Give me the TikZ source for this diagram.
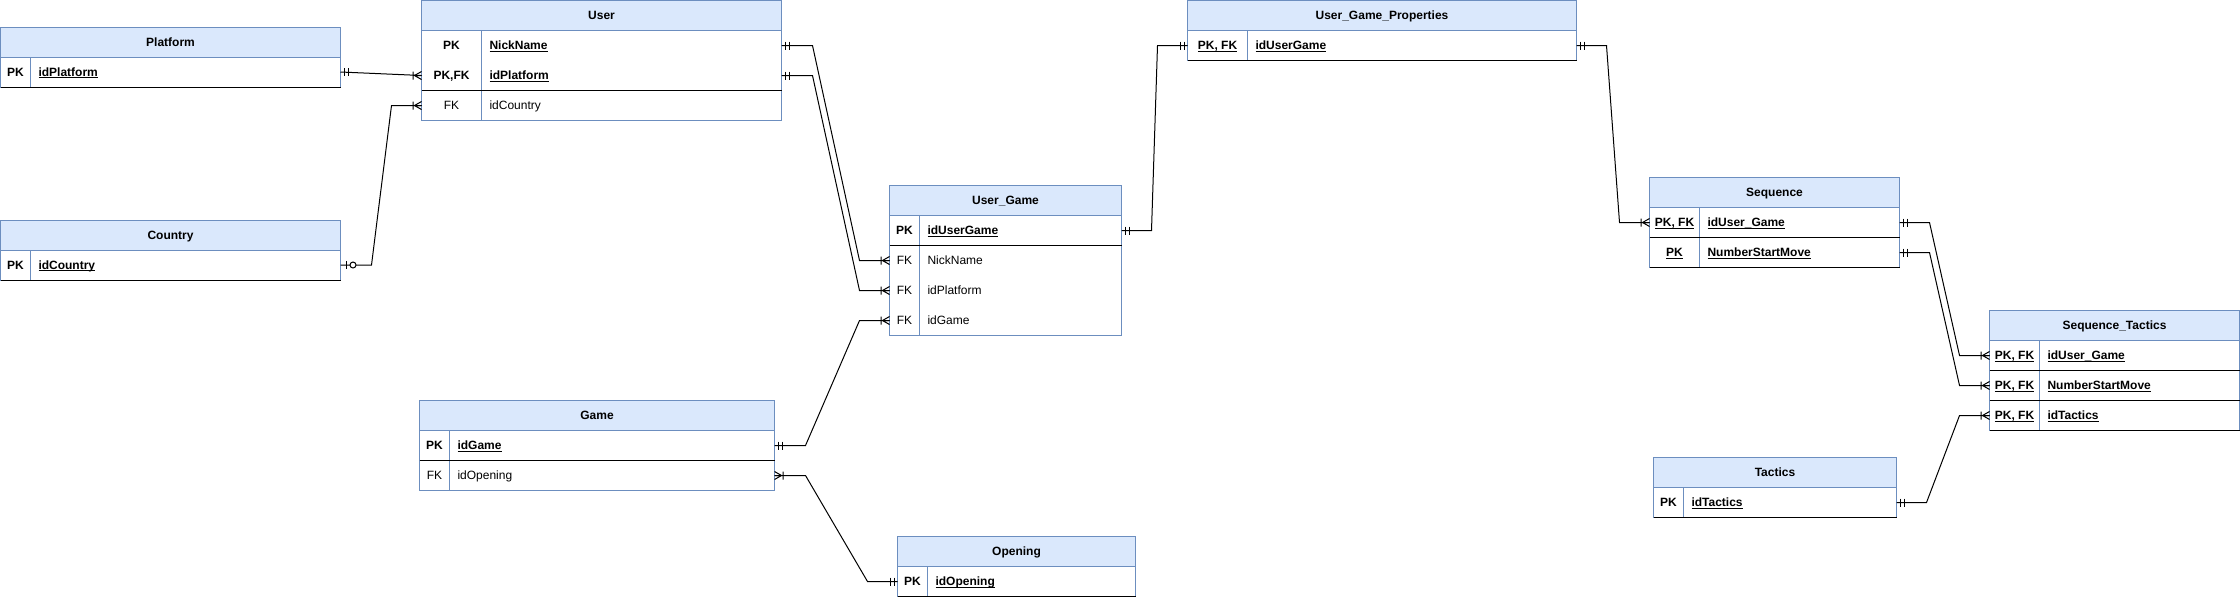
\documentclass[tikz,border=0pt]{standalone}
\usepackage{fontspec}
\setmainfont{Liberation Sans}
\usetikzlibrary{calc}
\definecolor{hdrfill}{HTML}{DAE8FC}
\definecolor{hdrline}{HTML}{6C8EBF}
\newcommand\myul[1]{\setbox0\hbox{#1}\rlap{\copy0}\rule[-2pt]{\wd0}{0.9pt}}
% table header: name, x, y, width, title
\newcommand\thead[5]{\node[hdr, minimum width=#4pt] (#1) at (#2,#3) {#5};}
% table row: name, x, y, width, keywidth, key, field
\newcommand\trow[7]{%
  \node[rowbox, minimum width=#4pt] (#1) at (#2,#3) {};
  \node[txt] (#1-k) at ($(#1.west)+(#5/2,0)$) {#6};
  \node[txt, anchor=west] (#1-f) at ($(#1.west)+(#5+8,0)$) {#7};}
% frame: header, last row, keywidth, first row
\newcommand\tframe[4]{%
  \draw[tbl] (#1.north west) rectangle (#2.south east);
  \draw[tbl] ($(#4.north west)+(#3,0)$) -- ($(#2.south west)+(#3,0)$);}
\newcommand\tsep[1]{\draw[sepline] (#1.south west) -- (#1.south east);}
% markers: anchor, direction (1 = line goes right, -1 = line goes left)
\newcommand\mkone[2]{\begin{scope}[shift={(#1)},xscale=#2]\draw[conn] (3.5,-4)--(3.5,4) (7.5,-4)--(7.5,4);\end{scope}}
\newcommand\mkmany[2]{\begin{scope}[shift={(#1)},xscale=#2]\draw[conn] (0,-4)--(7,0)--(0,4) (0,0)--(7,0) (8.5,-4)--(8.5,4);\end{scope}}
\newcommand\mkzeroone[2]{\begin{scope}[shift={(#1)},xscale=#2]\draw[conn] (5.5,-4)--(5.5,4); \draw[conn,fill=white] (12.5,0) circle[radius=3pt];\end{scope}}
\begin{document}
\begin{tikzpicture}[x=1pt,y=-1pt,
  hdr/.style={draw=hdrline, fill=hdrfill, line width=1pt, inner sep=0pt, outer sep=0pt,
    minimum height=30pt, anchor=north west, text height=8.5pt, text depth=0pt,
    font=\fontsize{12}{14}\selectfont\bfseries},
  rowbox/.style={inner sep=0pt, outer sep=0pt, minimum height=30pt, anchor=north west},
  txt/.style={inner sep=0pt, outer sep=0pt, text height=8.5pt, text depth=0pt,
    font=\fontsize{12}{14}\selectfont},
  tbl/.style={draw=hdrline, line width=1pt},
  sepline/.style={draw=black, line width=1pt},
  conn/.style={draw=black, line width=1pt}]
\useasboundingbox (0,0) rectangle (2240,598);

% Platform
\thead{plat-h}{0.5}{27}{340}{Platform}
\trow{plat-id}{0.5}{57}{340}{30}{\bfseries PK}{\bfseries\myul{idPlatform}}
\tframe{plat-h}{plat-id}{30}{plat-id}
\tsep{plat-id}

% User
\thead{user-h}{421.5}{0.5}{360}{User}
\trow{user-nick}{421.5}{30.5}{360}{60}{\bfseries PK}{\bfseries\myul{NickName}}
\trow{user-plat}{421.5}{60.5}{360}{60}{\bfseries PK,FK}{\bfseries\myul{idPlatform}}
\trow{user-country}{421.5}{90.5}{360}{60}{FK}{idCountry}
\tframe{user-h}{user-country}{60}{user-nick}
\tsep{user-plat}

% Country
\thead{country-h}{0.5}{220}{340}{Country}
\trow{country-id}{0.5}{250}{340}{30}{\bfseries PK}{\bfseries\myul{idCountry}}
\tframe{country-h}{country-id}{30}{country-id}
\tsep{country-id}

% User_Game
\thead{ug-h}{889.5}{185.5}{232}{User\_Game}
\trow{ug-pk}{889.5}{215.5}{232}{30}{\bfseries PK}{\bfseries\myul{idUserGame}}
\trow{ug-nick}{889.5}{245.5}{232}{30}{FK}{NickName}
\trow{ug-plat}{889.5}{275.5}{232}{30}{FK}{idPlatform}
\trow{ug-game}{889.5}{305.5}{232}{30}{FK}{idGame}
\tframe{ug-h}{ug-game}{30}{ug-pk}
\tsep{ug-pk}

% Game
\thead{game-h}{419.5}{400.5}{355}{Game}
\trow{game-id}{419.5}{430.5}{355}{30}{\bfseries PK}{\bfseries\myul{idGame}}
\trow{game-op}{419.5}{460.5}{355}{30}{FK}{idOpening}
\tframe{game-h}{game-op}{30}{game-id}
\tsep{game-id}

% Opening
\thead{op-h}{897.5}{536.5}{238}{Opening}
\trow{op-id}{897.5}{566.5}{238}{30}{\bfseries PK}{\bfseries\myul{idOpening}}
\tframe{op-h}{op-id}{30}{op-id}
\tsep{op-id}

% User_Game_Properties
\thead{ugp-h}{1187.5}{0.5}{389}{User\_Game\_Properties}
\trow{ugp-id}{1187.5}{30.5}{389}{60}{\bfseries\myul{PK, FK}}{\bfseries\myul{idUserGame}}
\tframe{ugp-h}{ugp-id}{60}{ugp-id}
\tsep{ugp-id}

% Sequence
\thead{seq-h}{1649.5}{177.5}{250}{Sequence}
\trow{seq-ug}{1649.5}{207.5}{250}{50}{\bfseries\myul{PK, FK}}{\bfseries\myul{idUser\_Game}}
\trow{seq-num}{1649.5}{237.5}{250}{50}{\bfseries\myul{PK}}{\bfseries\myul{NumberStartMove}}
\tframe{seq-h}{seq-num}{50}{seq-ug}
\tsep{seq-ug}
\tsep{seq-num}

% Sequence_Tactics
\thead{st-h}{1989.5}{310.5}{250}{Sequence\_Tactics}
\trow{st-ug}{1989.5}{340.5}{250}{50}{\bfseries\myul{PK, FK}}{\bfseries\myul{idUser\_Game}}
\trow{st-num}{1989.5}{370.5}{250}{50}{\bfseries\myul{PK, FK}}{\bfseries\myul{NumberStartMove}}
\trow{st-tac}{1989.5}{400.5}{250}{50}{\bfseries\myul{PK, FK}}{\bfseries\myul{idTactics}}
\tframe{st-h}{st-tac}{50}{st-ug}
\tsep{st-ug}
\tsep{st-num}
\tsep{st-tac}

% Tactics
\thead{tac-h}{1653.5}{457.5}{243}{Tactics}
\trow{tac-id}{1653.5}{487.5}{243}{30}{\bfseries PK}{\bfseries\myul{idTactics}}
\tframe{tac-h}{tac-id}{30}{tac-id}
\tsep{tac-id}

% Connectors
\draw[conn] (plat-id.east) -- (user-plat.west);
\mkone{plat-id.east}{1}\mkmany{user-plat.west}{-1}

\draw[conn] (country-id.east) -- ++(31,0) -- ([xshift=-30pt]user-country.west) -- (user-country.west);
\mkzeroone{country-id.east}{1}\mkmany{user-country.west}{-1}

\draw[conn] (user-nick.east) -- ++(31,0) -- ([xshift=-30pt]ug-nick.west) -- (ug-nick.west);
\mkone{user-nick.east}{1}\mkmany{ug-nick.west}{-1}

\draw[conn] (user-plat.east) -- ++(31,0) -- ([xshift=-30pt]ug-plat.west) -- (ug-plat.west);
\mkone{user-plat.east}{1}\mkmany{ug-plat.west}{-1}

\draw[conn] (game-id.east) -- ++(31,0) -- ([xshift=-30pt]ug-game.west) -- (ug-game.west);
\mkone{game-id.east}{1}\mkmany{ug-game.west}{-1}

\draw[conn] (game-op.east) -- ++(31,0) -- ([xshift=-30pt]op-id.west) -- (op-id.west);
\mkmany{game-op.east}{1}\mkone{op-id.west}{-1}

\draw[conn] (ug-pk.east) -- ++(30,0) -- ([xshift=-30pt]ugp-id.west) -- (ugp-id.west);
\mkone{ug-pk.east}{1}\mkone{ugp-id.west}{-1}

\draw[conn] (ugp-id.east) -- ++(30,0) -- ([xshift=-30pt]seq-ug.west) -- (seq-ug.west);
\mkone{ugp-id.east}{1}\mkmany{seq-ug.west}{-1}

\draw[conn] (seq-ug.east) -- ++(30,0) -- ([xshift=-30pt]st-ug.west) -- (st-ug.west);
\mkone{seq-ug.east}{1}\mkmany{st-ug.west}{-1}

\draw[conn] (seq-num.east) -- ++(30,0) -- ([xshift=-30pt]st-num.west) -- (st-num.west);
\mkone{seq-num.east}{1}\mkmany{st-num.west}{-1}

\draw[conn] (tac-id.east) -- ++(30,0) -- ([xshift=-30pt]st-tac.west) -- (st-tac.west);
\mkone{tac-id.east}{1}\mkmany{st-tac.west}{-1}
\end{tikzpicture}
\end{document}
